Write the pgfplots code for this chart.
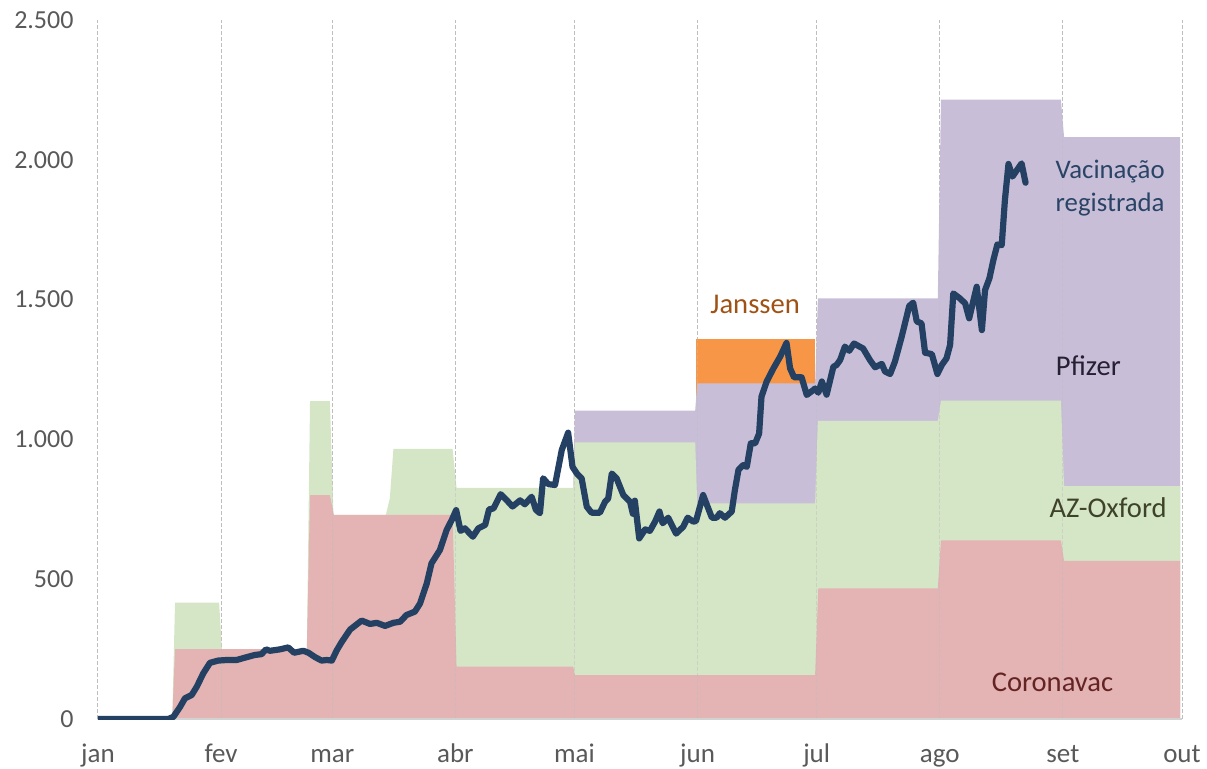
\documentclass[border=0pt]{standalone}
\usepackage{fontspec}
\setmainfont{Carlito}
\usepackage{pgfplots}
\pgfplotsset{compat=1.18}
\definecolor{cvpink}{RGB}{228,179,179}
\definecolor{azgreen}{RGB}{213,230,199}
\definecolor{pfpurple}{RGB}{200,190,216}
\definecolor{jsorange}{RGB}{247,150,70}
\definecolor{linenavy}{RGB}{36,64,98}
\definecolor{tickgray}{RGB}{89,89,89}
\definecolor{gridgray}{RGB}{190,190,190}
\definecolor{jstext}{RGB}{160,82,20}
\definecolor{vactext}{RGB}{42,68,102}
\definecolor{pftext}{RGB}{38,32,50}
\definecolor{aztext}{RGB}{62,66,40}
\definecolor{cvtext}{RGB}{100,36,36}
\begin{document}
\begin{tikzpicture}
\useasboundingbox (-49pt,-24.5pt) rectangle (554.5pt,359.5pt);
\begin{axis}[
  at={(0,0)}, anchor=south west,
  width=542pt, height=349.5pt, scale only axis,
  xmin=0, xmax=273, ymin=0, ymax=2500,
  axis line style={draw=none},
  major tick length=0pt,
  xtick={0,31,59,90,120,151,181,212,243,273},
  xticklabels={jan,fev,mar,abr,mai,jun,jul,ago,set,out},
  ytick={0,500,1000,1500,2000,2500},
  xmajorgrids,
  major grid style={gridgray, line width=0.5pt, dash pattern=on 2pt off 1pt},
  /pgf/number format/.cd, 1000 sep={.}, assume math mode=true,
  /pgfplots/.cd,
  xticklabel style={anchor=base, yshift=-21.5pt, font=\fontsize{13.5}{16}\selectfont, text=tickgray},
  yticklabel style={anchor=east, xshift=-8.7pt, font=\fontsize{13}{16}\selectfont, text=tickgray},
]
% Janssen (cumulative top)
\addplot[fill=jsorange, draw=none] coordinates {
(150.6,1359) (180.6,1359)} \closedcycle;
% Pfizer (cumulative top)
\addplot[fill=pfpurple, draw=none] coordinates {
(119.7,827) (120.1,1103) (150.4,1103) (150.9,1200) (180.6,1200) (181.3,1504)
(211.5,1504) (212.3,2215) (242.5,2215) (243.3,2081) (272.5,2081)} \closedcycle;
% AZ-Oxford (cumulative top)
\addplot[fill=azgreen, draw=none] coordinates {
(18.7,0) (19.4,416) (30.5,416) (31.2,250) (52.6,250) (53.4,1137) (58.4,1137)
(59.3,730) (72.5,730) (73.5,790) (74.4,966) (89.3,966) (90.3,827) (119.7,827)
(120.1,989) (150.4,989) (150.9,771) (180.6,771) (181.3,1066) (211.5,1066)
(212.3,1139) (242.5,1139) (243.3,833) (272.5,833)} \closedcycle;
% Coronavac
\addplot[fill=cvpink, draw=none] coordinates {
(18.7,0) (19.4,250) (52.6,250) (53.4,801) (58.4,801) (59.4,730) (89.3,730)
(90.3,187) (119.7,187) (120.1,157) (180.6,157) (181.4,467) (211.5,467)
(212.3,639) (242.5,639) (243.3,566) (272.5,566)} \closedcycle;
% faint grid lines showing through the areas
\foreach \m in {31,59,90,120,151,181,212,243} {
  \edef\tmp{\noexpand\draw[gridgray, draw opacity=0.45, line width=0.5pt, dash pattern=on 2pt off 1pt] (axis cs:\m,0) -- (axis cs:\m,2215);}
  \tmp
}
% baseline
\draw[gray!35, line width=0.6pt] (axis cs:0,0) -- (axis cs:273,0);
% Vacinacao registrada
\addplot[linenavy, line width=3.1pt, line join=round, line cap=round] coordinates {
(0,0) (17.7,0) (19.0,8) (20.7,44) (21.9,74) (23.6,86) (24.9,116) (26.5,163)
(28.2,201) (30.3,209) (32.4,211) (34.9,211) (37.4,221) (39.5,229) (41.2,232)
(42.3,249) (43.3,244) (45.8,249) (47.9,256) (49.4,237) (51.7,244) (53.0,237)
(54.7,221) (56.3,209) (57.6,211) (58.9,209) (60.1,245) (61.4,276) (63.5,320)
(66.4,352) (68.5,340) (70.2,344) (72.3,333) (74.4,344) (76.1,348) (77.7,372)
(79.8,384) (81.1,413) (82.8,485) (84.0,557) (86.1,604) (87.8,676) (89.1,712)
(90.2,747) (91.3,673) (92.4,682) (94.4,652) (95.8,682) (97.5,694) (98.5,750)
(99.6,753) (101.4,804) (102.9,783) (104.4,760) (106.3,782) (107.5,768)
(109.2,795) (110.3,748) (111.3,736) (112.1,861) (113.4,840) (115.1,837)
(116.8,962) (118.4,1024) (119.5,902) (120.6,878) (121.8,861) (123.1,759)
(124.3,738) (126.4,738) (127.7,777) (128.5,789) (129.4,878) (130.6,861)
(132.3,801) (134.0,777) (134.7,734) (135.2,781) (136.3,646) (137.8,678)
(139.0,673) (140.3,706) (141.4,742) (142.2,700) (143.6,720) (145.6,663)
(147.4,688) (148.5,720) (149.9,706) (150.6,708) (152.4,801) (153.7,753)
(154.6,720) (155.8,720) (156.6,736) (157.9,720) (159.6,742) (160.4,819)
(161.3,891) (162.5,908) (163.4,902) (164.4,986) (165.5,986) (166.5,1021)
(167.1,1153) (168.4,1207) (170.1,1254) (171.8,1296) (173.4,1345) (174.3,1254)
(175.3,1222) (177.2,1222) (178.5,1159) (180.2,1177) (180.6,1182) (181.4,1167)
(182.3,1207) (183.5,1160) (185.2,1260) (186.0,1266) (186.9,1284) (188.1,1332)
(189.2,1317) (190.4,1343) (192.7,1325) (194.4,1284) (195.7,1258) (197.4,1270)
(198.2,1243) (199.5,1234) (200.7,1278) (202.4,1367) (204.3,1477) (205.3,1489)
(206.2,1422) (207.4,1415) (208.3,1310) (210.0,1305) (211.4,1234) (212.5,1266)
(213.7,1290) (214.6,1338) (215.4,1522) (217.1,1504) (218.4,1486) (219.4,1433)
(221.3,1546) (222.6,1391) (223.4,1534) (224.5,1576) (225.5,1642) (226.5,1697)
(227.6,1695) (228.4,1856) (229.3,1985) (230.3,1940) (232.6,1987) (233.6,1918)};
% labels
\node[text=jstext, font=\fontsize{14.3}{17}\selectfont] at (axis cs:165.5,1481) {Janssen};
\node[text=vactext, font=\fontsize{13.4}{16.5}\selectfont, align=center] at (axis cs:254.9,1899) {Vacinação\\registrada};
\node[text=pftext, font=\fontsize{14.3}{17}\selectfont] at (axis cs:249.4,1262) {Pfizer};
\node[text=aztext, font=\fontsize{14.3}{17}\selectfont] at (axis cs:254.4,755) {AZ-Oxford};
\node[text=cvtext, font=\fontsize{14.3}{17}\selectfont] at (axis cs:240.4,132) {Coronavac};
\end{axis}
\end{tikzpicture}
\end{document}
